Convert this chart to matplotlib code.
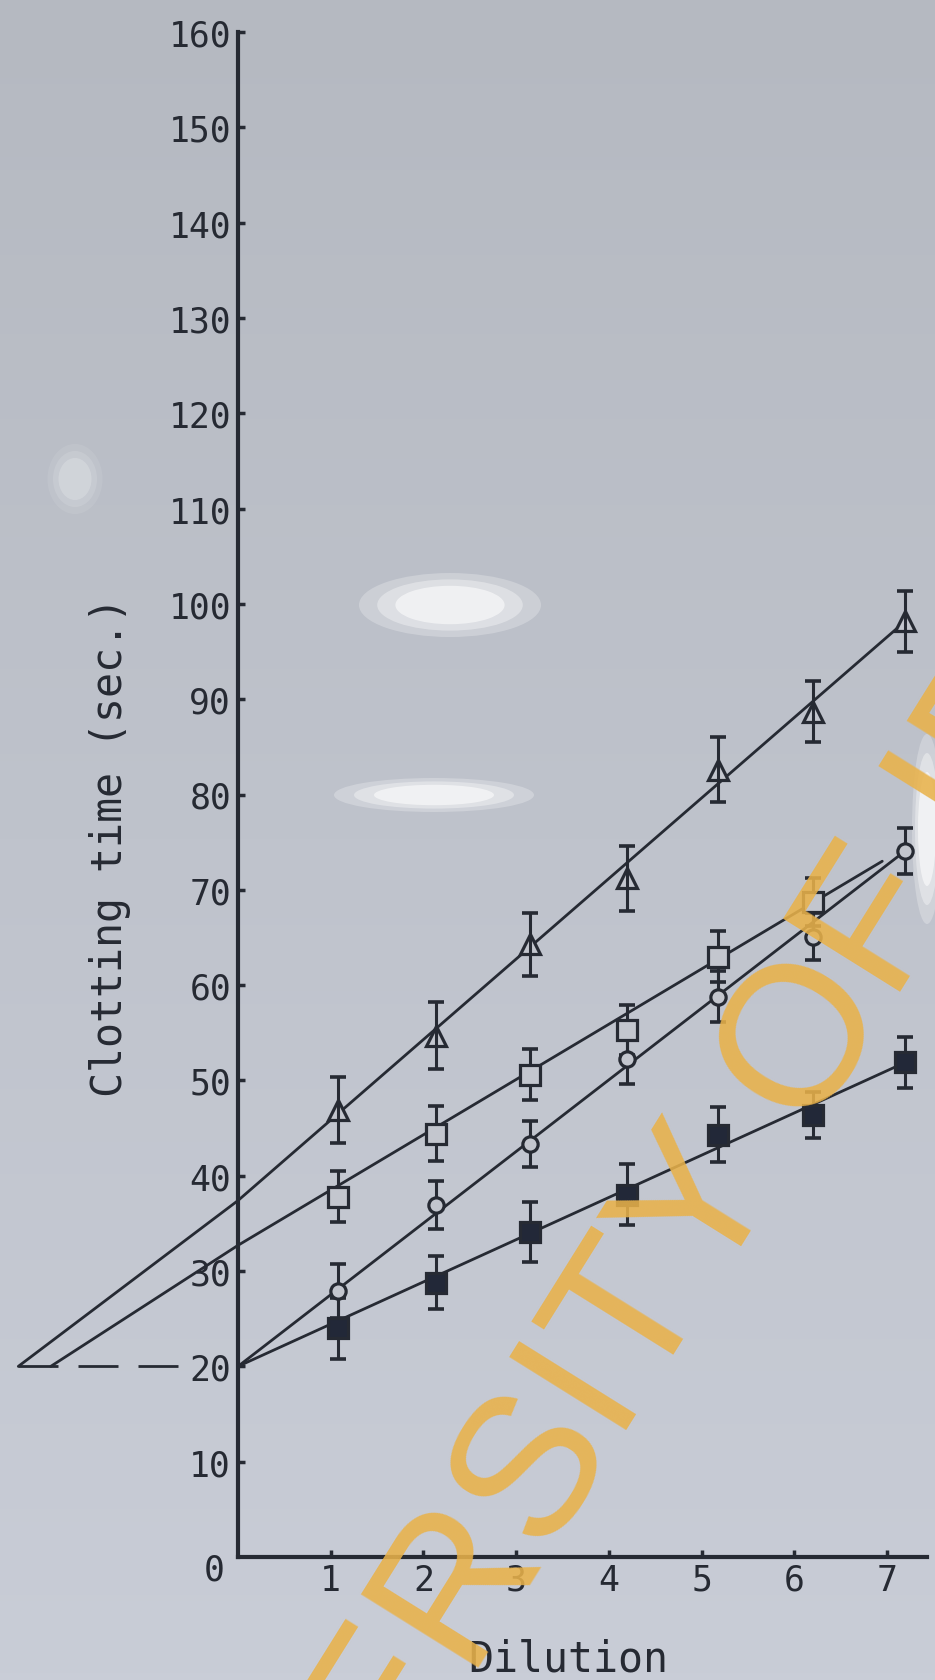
import numpy as np
import matplotlib
matplotlib.use("Agg")
import matplotlib.pyplot as plt
from matplotlib.patches import Ellipse
from matplotlib.transforms import offset_copy

# ---------------- data ----------------
dilution_ticks = [1, 2, 3, 4, 5, 6, 7]
# horizontal position at which the points are drawn in the original figure
dilution_pos = [1.08, 2.14, 3.15, 4.20, 5.18, 6.20, 7.20]

tri_y = [46.9, 54.7, 64.3, 71.2, 82.6, 88.7, 98.2]
tri_err = [3.5, 3.5, 3.3, 3.4, 3.4, 3.2, 3.2]
sq_y = [37.8, 44.4, 50.6, 55.3, 63.0, 68.7]
sq_err = [2.7, 2.9, 2.7, 2.6, 2.7, 2.5]
circ_y = [27.9, 36.9, 43.3, 52.2, 58.8, 65.1, 74.1]
circ_err = [2.8, 2.5, 2.4, 2.6, 2.7, 2.5, 2.4]
fsq_y = [24.0, 28.8, 34.1, 38.0, 44.3, 46.4, 51.9]
fsq_err = [3.2, 2.8, 3.1, 3.2, 2.9, 2.4, 2.7]

# regression lines (vertices)
tri_fit_x = [-2.37, 0.0, 7.20]
tri_fit_y = [20.0, 37.4, 98.2]
sq_fit_x = [-2.02, 0.0, 6.95]
sq_fit_y = [20.0, 32.7, 73.0]
circ_fit_x = [0.0, 7.20]
circ_fit_y = [20.0, 74.1]
fsq_fit_x = [0.0, 7.20]
fsq_fit_y = [20.0, 51.9]
ref_x = [-2.37, -0.65]
ref_y = [20.0, 20.0]

ytick_vals = list(range(10, 161, 10))
xlabel = "Dilution"
ylabel = "Clotting time (sec.)"
watermark = "UNIVERSITY OF IBADAN"

# ---------------- style ----------------
ink = "#262a33"
face = "#c3c6ce"
mono = "DejaVu Sans Mono"
plt.rcParams["font.family"] = [mono, "DejaVu Sans"]

W, H = 935, 1681
fig = plt.figure(figsize=(W / 100, H / 100), dpi=100)

# photographic background: soft vertical gradient
bg = fig.add_axes([0, 0, 1, 1], zorder=-10)
top = np.array([181, 185, 193]) / 255
bot = np.array([201, 205, 215]) / 255
t = np.linspace(0, 1, 256)[:, None]
grad = (top[None, :] * (1 - t) + bot[None, :] * t)[:, None, :]
grad = np.repeat(grad, 4, axis=1)
bg.imshow(grad, aspect="auto", extent=[0, 1, 0, 1], origin="upper")
bg.set_axis_off()

# glare spots
for (cx, cy, w, h, amp) in [(450, 606, 182, 64, 1.0), (434, 796, 200, 34, 1.0),
                            (927, 830, 30, 190, 1.0), (75, 480, 55, 70, 0.35)]:
    for k, a in [(1.0, 0.25), (0.8, 0.35), (0.6, 0.55)]:
        e = Ellipse((cx / W, 1 - cy / H), w * k / W, h * k / H, transform=fig.transFigure,
                    facecolor="white", edgecolor="none", alpha=a * amp, zorder=-5)
        fig.patches.append(e)

# main axes: x origin at 238 px, 92.7 px per unit; y 0 at 1558 px, 160 at 33 px
x0_px, xs = 238, 92.7
ax = fig.add_axes([0, (H - 1558) / H, 1, (1558 - 33) / H])
ax.set_xlim(-x0_px / xs, (W - x0_px) / xs)
ax.set_ylim(0, 160)
ax.patch.set_alpha(0)

for s in ["top", "right"]:
    ax.spines[s].set_visible(False)
ax.spines["left"].set_position(("data", 0))
ax.spines["left"].set_bounds(0, 160)
ax.spines["bottom"].set_bounds(0, 7.43)
for s in ["left", "bottom"]:
    ax.spines[s].set_linewidth(3)
    ax.spines[s].set_color(ink)

ax.set_xticks(dilution_ticks)
ax.set_xticklabels([str(v) for v in dilution_ticks])
ax.set_yticks(ytick_vals)
ax.set_yticklabels([str(v) for v in ytick_vals])
ax.tick_params(direction="in", length=5, width=2.5, color=ink, labelcolor=ink,
               labelsize=25)
ax.tick_params(axis="x", pad=4)
ax.tick_params(axis="y", pad=5)

ax.text(-0.26, 0, "0", transform=offset_copy(ax.transData, fig=fig, y=3, units="points"),
        ha="center", va="top", fontsize=25, color=ink)

# regression lines
lw = 2.0
for fx, fy in [(tri_fit_x, tri_fit_y), (sq_fit_x, sq_fit_y),
               (circ_fit_x, circ_fit_y), (fsq_fit_x, fsq_fit_y)]:
    ax.plot(fx, fy, color=ink, lw=lw, clip_on=False, zorder=2, solid_capstyle="round")
ax.plot(ref_x, ref_y, color=ink, lw=lw, ls=(0, (40 * 0.72 / lw, 20 * 0.72 / lw)),
        clip_on=False, zorder=2)

# error bars + markers
series = [
    (dilution_pos, tri_y, tri_err, "^", 14, face, 5),
    (dilution_pos[:len(sq_y)], sq_y, sq_err, "s", 14, face, 3),
    (dilution_pos, circ_y, circ_err, "o", 11, face, 3),
    (dilution_pos, fsq_y, fsq_err, "s", 15, "#222838", 3),
]
for xs_, ys_, es_, mk, ms, mfc, ez in series:
    ax.errorbar(xs_, ys_, yerr=es_, fmt="none", ecolor=ink, elinewidth=2.2,
                capsize=5.5, capthick=2.6, zorder=ez, clip_on=False)
    ax.plot(xs_, ys_, ls="none", marker=mk, ms=ms, mfc=mfc, mec=ink, mew=2.3,
            zorder=4, clip_on=False)

# axis titles
fig.text(110 / W, 1 - 847 / H, ylabel, rotation=90, ha="center", va="center",
         fontsize=30, color=ink)
fig.text(568 / W, (H - 1672) / H, xlabel, ha="center", va="baseline",
         fontsize=30, color=ink)

# diagonal watermark over the photograph
fig.text(764 / W, 1 - 1211 / H, watermark, rotation=58, rotation_mode="anchor",
         ha="center", va="baseline", fontsize=144, family=["Liberation Sans", "DejaVu Sans"],
         color="#E9B24A", alpha=0.88, zorder=20)

fig.savefig("out.png", dpi=100)
